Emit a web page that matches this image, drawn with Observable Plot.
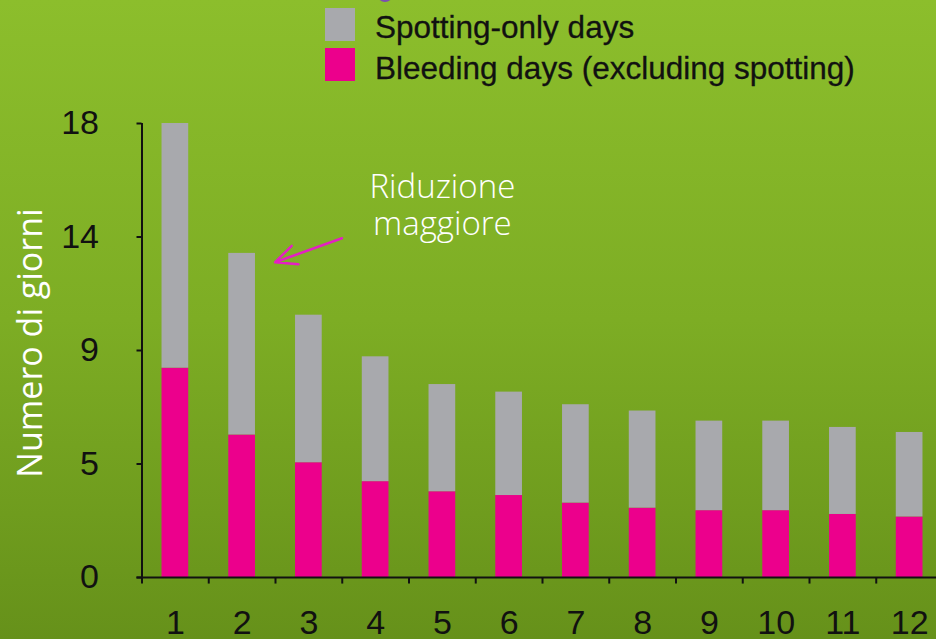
<!DOCTYPE html>
<html>
<head>
<meta charset="utf-8">
<script src="https://cdn.jsdelivr.net/npm/d3@7"></script>
<script src="https://cdn.jsdelivr.net/npm/@observablehq/plot@0.6"></script>
<style>
  html, body { margin: 0; padding: 0; width: 936px; height: 639px; overflow: hidden; }
  body {
    position: relative;
    background: linear-gradient(to bottom, #8cbe2c 0%, #7dad24 50%, #66911a 100%);
    font-family: "Liberation Sans", Arial, sans-serif;
  }
  #chart { position: absolute; left: 0; top: 0; }
  #legend { position: absolute; left: 0; top: 0; width: 936px; height: 100px; pointer-events: none; }
  .sw { position: absolute; left: 325px; width: 30px; height: 33px; }
  .lt { position: absolute; left: 375px; font-size: 31.5px; line-height: 32px; color: #111; white-space: nowrap; -webkit-text-stroke: 0.3px #111; }
  .dotmark { position: absolute; left: 377px; top: -14px; width: 16px; height: 16px; border-radius: 50%; background: #7b4fb0; }
</style>
</head>
<body>
<div id="chart"></div>
<div id="legend"></div>
<script>
// ---- data ----
const months = ["1", "2", "3", "4", "5", "6", "7", "8", "9", "10", "11", "12"];
const totalDays = [18.0, 12.85, 10.4, 8.75, 7.65, 7.35, 6.85, 6.6, 6.2, 6.2, 5.95, 5.75];
const bleedingDays = [8.3, 5.65, 4.55, 3.8, 3.4, 3.25, 2.95, 2.75, 2.65, 2.65, 2.5, 2.4];
const yTickValues = [0, 4.5, 9, 13.5, 18];
const yTickLabels = ["0", "5", "9", "14", "18"];
const seriesNames = ["Spotting-only days", "Bleeding days (excluding spotting)"];
const seriesColors = ["#a8a9ad", "#ec008c"];
const yTitle = "Numero di giorni";
const annotation = { month: "5", value: 14.8, text: "Riduzione\nmaggiore" };
const arrowData = { fromMonth: "3", fromValue: 13.45, toMonth: "2", toValue: 12.5 };

// ---- build ----
const rows = months.map((m, i) => ({ month: m, bleeding: bleedingDays[i], total: totalDays[i] }));
const xRange = [141.5, 942.5];
const step = (xRange[1] - xRange[0]) / months.length;

const chart = Plot.plot({
  width: 936,
  height: 639,
  marginLeft: 141.5,
  marginRight: 0,
  marginTop: 123,
  marginBottom: 62,
  style: { background: "transparent", overflow: "visible", color: "#111", fontFamily: "'Liberation Sans', Arial, sans-serif" },
  x: { domain: months, range: xRange, paddingInner: 0.6, paddingOuter: 0.3, round: false },
  y: { domain: [0, 18], range: [577, 123] },
  marks: [
    Plot.barY(rows, { x: "month", y1: 0, y2: "bleeding", fill: seriesColors[1] }),
    Plot.barY(rows, { x: "month", y1: "bleeding", y2: "total", fill: seriesColors[0] }),
    // axis lines
    Plot.ruleY([0], { stroke: "#111", strokeWidth: 2, insetLeft: -5 }),
    Plot.ruleX([months[0]], { y1: 0, y2: 18, dx: -step / 2, stroke: "#111", strokeWidth: 2 }),
    // x ticks at band boundaries
    Plot.ruleX(months, { x: d => d, y1: 0, y2: -0.26, dx: -step / 2, stroke: "#111", strokeWidth: 2 }),
    Plot.axisY({
      ticks: yTickValues,
      tickFormat: d => yTickLabels[yTickValues.indexOf(d)],
      tickSize: 5, tickPadding: 38, fontSize: 34, strokeWidth: 2, label: null
    }),
    Plot.axisX({ tickSize: 0, tickPadding: 32, fontSize: 34, label: null }),
    Plot.text([yTitle], {
      frameAnchor: "left", textAnchor: "middle", text: d => d, rotate: -90, dx: -110.5, dy: -7.5,
      fill: "white", fontSize: 34, fontFamily: "'Open Sans', sans-serif", fontWeight: 400
    }),
    Plot.text([annotation], {
      x: "month", y: "value", text: "text", fill: "white", fontSize: 33,
      fontFamily: "'Open Sans', sans-serif", fontWeight: 300, lineHeight: 1.12
    }),
    Plot.arrow([arrowData], {
      x1: "fromMonth", y1: "fromValue", x2: "toMonth", y2: "toValue", dx: 33,
      stroke: "#e41fc3", strokeWidth: 2.5, headLength: 14, headAngle: 50
    })
  ]
});
document.getElementById("chart").append(chart);

// ---- legend ----
const legend = document.getElementById("legend");
legend.innerHTML = `<div class="dotmark"></div>` + seriesNames.map((name, i) =>
  `<div class="sw" style="top:${8 + i * 40}px;background:${seriesColors[i]}"></div>` +
  `<div class="lt" style="top:${11 + i * 40.5}px">${name}</div>`).join("");
</script>
</body>
</html>
